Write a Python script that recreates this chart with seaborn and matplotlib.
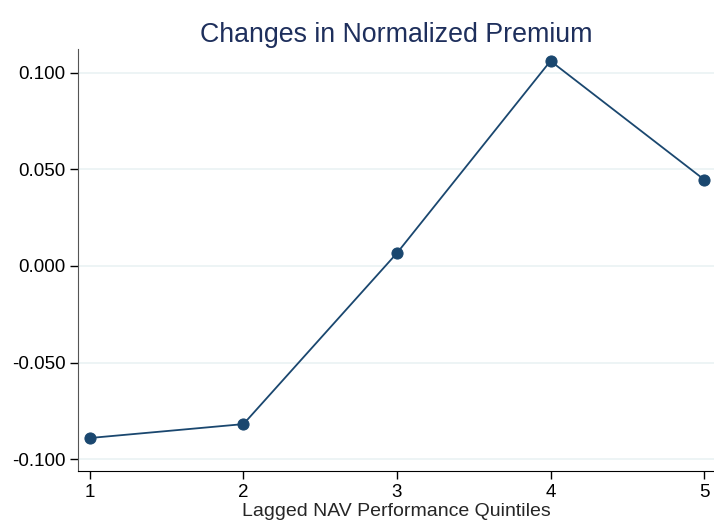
import numpy as np
import pandas as pd
import seaborn as sns
import matplotlib
matplotlib.use("Agg")
import matplotlib.pyplot as plt

# quintiles and mean change in normalized premium
quintiles = [1, 2, 3, 4, 5]
premium_change = [-0.0891, -0.0819, 0.0067, 0.1062, 0.0448]
ytick_vals = [-0.100, -0.050, 0.000, 0.050, 0.100]

df = pd.DataFrame({"quintile": quintiles, "change": premium_change})

sns.set_style("white")
plt.rcParams['font.family'] = ['Liberation Sans', 'DejaVu Sans']

fig = plt.figure(figsize=(7.14, 5.23), dpi=100)
ax = fig.add_axes([0.1092, 0.0994, 0.8908, 0.8069])

navy = "#1a476f"
sns.lineplot(data=df, x="quintile", y="change", color=navy, linewidth=1.3,
             marker="o", markersize=8, markeredgecolor=navy, ax=ax)

ax.set_xlim(0.922, 5.065)
ax.set_ylim(-0.1062, 0.1124)
ax.set_xticks(quintiles)
ax.set_yticks(ytick_vals)
ax.set_yticklabels([f"{v:.3f}" for v in ytick_vals])
ax.yaxis.grid(True, color="#eaf2f3", linewidth=1.2)
ax.set_axisbelow(True)

for s in ["top", "right"]:
    ax.spines[s].set_visible(False)
ax.spines["left"].set_color("#555555")
ax.spines["bottom"].set_color("black")
ax.tick_params(axis="both", direction="out", length=6, width=1,
               labelsize=13.5, colors="black", pad=3, left=True, bottom=True)

ax.set_xlabel("Lagged NAV Performance Quintiles", fontsize=14, labelpad=2)
ax.set_ylabel("")
ax.set_title("Changes in Normalized Premium", fontsize=19.3, color="#1e2f5c", pad=5)

fig.savefig("out.png", dpi=100)
